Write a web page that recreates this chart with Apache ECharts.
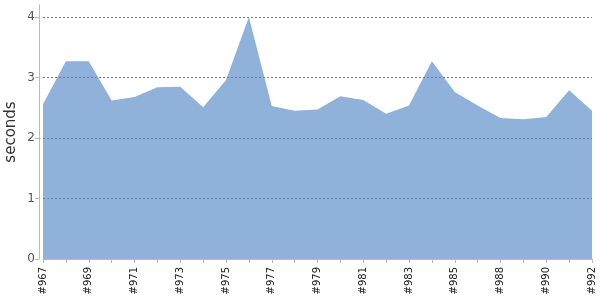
<!DOCTYPE html>
<html>
<head>
<meta charset="utf-8">
<script src="https://cdn.jsdelivr.net/npm/echarts@6/dist/echarts.min.js"></script>
<style>
  html, body { margin: 0; padding: 0; background: #fff; }
  #chart { width: 600px; height: 300px; }
</style>
</head>
<body>
<div id="chart"></div>
<script>
// build numbers along the x axis
const builds = [
  '#967', '#968', '#969', '#970', '#971', '#972', '#973', '#974', '#975', '#976',
  '#977', '#978', '#979', '#980', '#981', '#982', '#983', '#984', '#985', '#986',
  '#988', '#989', '#990', '#991', '#992'
]
// duration of each build, seconds
const seconds = [
  2.56, 3.27, 3.27, 2.62, 2.68, 2.84, 2.85, 2.51, 2.96, 4.00,
  2.53, 2.45, 2.47, 2.69, 2.63, 2.40, 2.54, 3.27, 2.76, 2.54,
  2.33, 2.31, 2.35, 2.79, 2.45
]
const yTicks = [0, 1, 2, 3, 4]

const chart = echarts.init(document.getElementById('chart'))

const option = {
  animation: false,
  grid: {
    left: 43,
    right: 8,
    top: 5,
    bottom: 41,
    containLabel: false,
    outerBoundsMode: 'none'
  },
  xAxis: {
    type: 'category',
    data: builds,
    boundaryGap: false,
    offset: 4,
    axisLine: { lineStyle: { color: '#bbb' } },
    axisTick: { alignWithLabel: true, interval: 0, length: 4, lineStyle: { color: '#bbb' } },
    axisLabel: {
      interval: 1,
      rotate: 90,
      margin: 4,
      fontFamily: 'DejaVu Sans',
      fontSize: 10,
      color: '#222'
    },
    splitLine: { show: false }
  },
  yAxis: {
    type: 'value',
    min: yTicks[0],
    max: 4.2,
    interval: 1,
    offset: 4,
    name: 'seconds',
    nameLocation: 'middle',
    nameGap: 20,
    nameMoveOverlap: false,
    nameTextStyle: { fontFamily: 'DejaVu Sans', fontSize: 15, color: '#333' },
    axisLine: { show: true, lineStyle: { color: '#bbb' } },
    axisTick: { show: true, length: 4, lineStyle: { color: '#bbb' } },
    axisLabel: {
      showMaxLabel: false,
      margin: 4,
      fontFamily: 'DejaVu Sans',
      fontSize: 12,
      color: '#555',
      formatter: v => (yTicks.includes(v) ? String(v) : '')
    },
    splitLine: {
      show: true,
      showMaxLine: false,
      lineStyle: { color: '#777', type: [2, 2], width: 1 }
    }
  },
  series: [
    {
      type: 'line',
      data: seconds,
      symbol: 'none',
      lineStyle: { width: 0 },
      areaStyle: { color: '#5387c6', opacity: 0.65 }
    }
  ]
}

chart.setOption(option)
</script>
</body>
</html>
